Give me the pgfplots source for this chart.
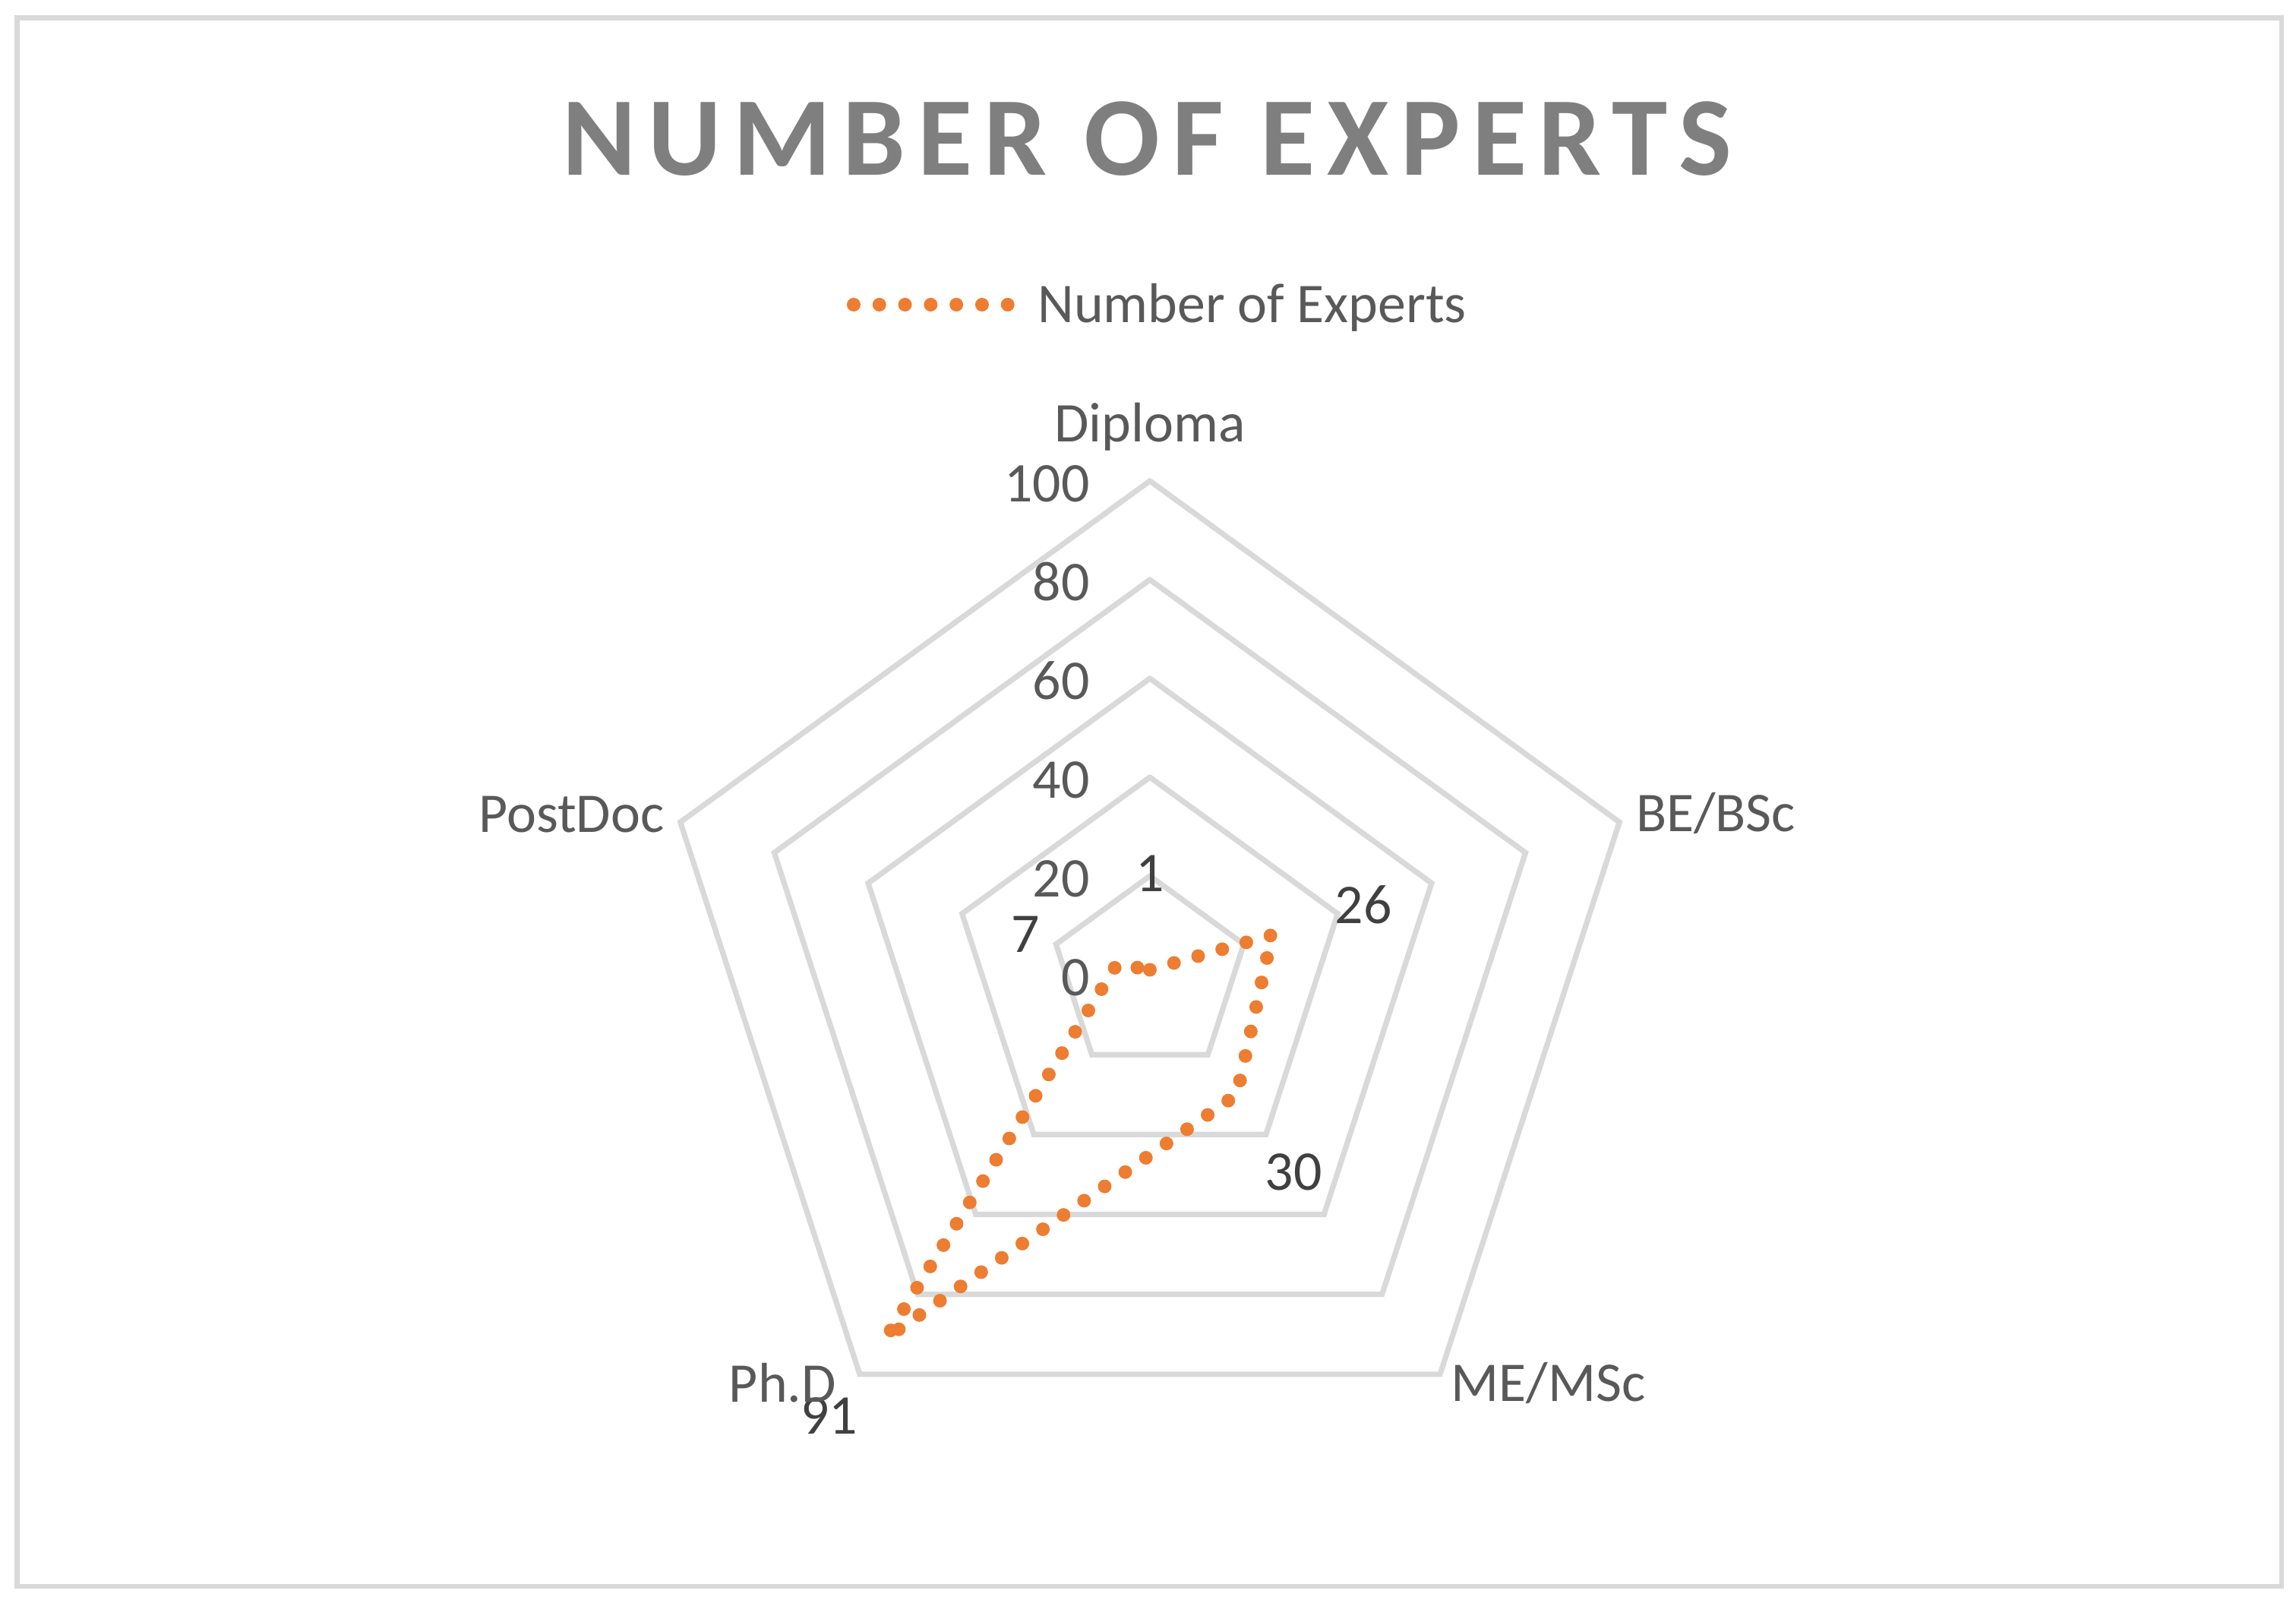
\documentclass[border=0pt]{standalone}
\usepackage{fontspec}
\setmainfont{Carlito}
\usepackage{pgfplots}
\pgfplotsset{compat=1.18}

\definecolor{gridc}{HTML}{D9D9D9}
\definecolor{lineor}{HTML}{ED7D31}
\definecolor{labc}{HTML}{595959}
\definecolor{datac}{HTML}{404040}
\definecolor{titlec}{HTML}{7F7F7F}

\pgfplotsset{
  ring/.style={gridc, line width=0.36mm, line cap=round, line join=miter, mark=none, data cs=polar},
  txt/.style={draw=none, mark=none, data cs=polar, nodes near coords,
    point meta=explicit symbolic, nodes near coords align=center},
}
\newcommand{\lab}{\fontsize{10.5}{12}\selectfont}

\begin{document}
\begin{tikzpicture}
  \path[use as bounding box] (-75.7mm,-41.15mm) rectangle (75.45mm,64.15mm);
  \draw[gridc, line width=0.33mm] (-74.575mm,-40.25mm) rectangle (74.5mm,62.975mm);

  \begin{axis}[
      at={(0,0)}, anchor=origin,
      x=0.325mm, y=0.325mm,
      xmin=-100, xmax=100, ymin=-100, ymax=100,
      hide axis, clip=false,
    ]
    % pentagon grid
    \addplot[ring] coordinates {(90,20)(18,20)(-54,20)(-126,20)(162,20)(90,20)};
    \addplot[ring] coordinates {(90,40)(18,40)(-54,40)(-126,40)(162,40)(90,40)};
    \addplot[ring] coordinates {(90,60)(18,60)(-54,60)(-126,60)(162,60)(90,60)};
    \addplot[ring] coordinates {(90,80)(18,80)(-54,80)(-126,80)(162,80)(90,80)};
    \addplot[ring] coordinates {(90,100)(18,100)(-54,100)(-126,100)(162,100)(90,100)};

    % Number of Experts
    \addplot[lineor, line width=0.9mm, line cap=round, dash pattern=on 0pt off 1.65mm,
      mark=none, data cs=polar]
      coordinates {(90,1)(18,26)(-54,30)(-126,91)(162,7)(90,1)};

    % radial tick labels
    \addplot[txt, nodes near coords style={anchor=east, xshift=-3.9mm, yshift=-0.2mm,
        font=\lab, text=labc, inner sep=0pt, text height=2.35mm, text depth=0pt}]
      coordinates {(90,0)[0] (90,20)[20] (90,40)[40] (90,60)[60] (90,80)[80] (90,100)[100]};

    % data labels
    \addplot[txt, nodes near coords style={anchor=center,
        font=\lab, text=datac, inner sep=0pt, text height=2.35mm, text depth=0pt}]
      coordinates {(90,20.5)[1] (18,45.5)[26] (-54,49.5)[30] (-126,110.5)[91] (162,26.5)[7]};

    % category labels
    \addplot[txt, nodes near coords style={anchor=center,
        font=\lab, text=labc, inner sep=0pt, text height=2.35mm, text depth=0pt}]
      coordinates {(90,111.5)[Diploma] (15.9,119.2)[BE/BSc] (-45.7,115.6)[ME/MSc]
        (-131.9,111.4)[Ph.D] (164.5,121.6)[PostDoc]};
  \end{axis}

  % title
  \node[anchor=center, inner sep=0pt, text height=4.75mm, text depth=0pt, text=titlec]
    at (-0.175mm,55mm)
    {\fontsize{21}{25}\selectfont\bfseries\addfontfeatures{LetterSpace=10.5}NUMBER OF EXPERTS};

  % legend
  \draw[lineor, line width=0.9mm, line cap=round, dash pattern=on 0pt off 1.69mm]
    (-19.5mm,44.1mm) -- (-9.3mm,44.1mm);
  \node[anchor=west, inner sep=0pt, text height=2.35mm, text depth=0pt, text=labc,
    font=\lab] at (-7.45mm,44.1mm) {Number of Experts};
\end{tikzpicture}
\end{document}
